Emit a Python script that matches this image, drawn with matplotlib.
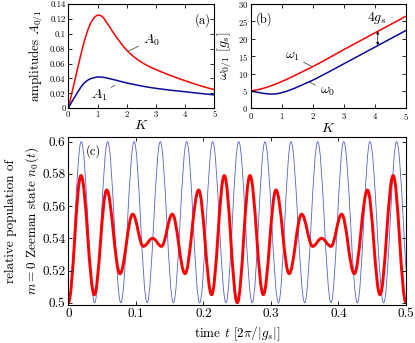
import numpy as np
import matplotlib
matplotlib.use('Agg')
import matplotlib.pyplot as plt
from matplotlib.path import Path
from matplotlib.patches import PathPatch
from matplotlib.ticker import FormatStrFormatter

plt.rcParams['font.family'] = 'serif'
plt.rcParams['font.serif'] = ['cmr10']
plt.rcParams['mathtext.fontset'] = 'cm'
plt.rcParams['axes.formatter.use_mathtext'] = True
plt.rcParams['axes.linewidth'] = 0.8

# (a) amplitudes vs K
K_a = [0, 0.125, 0.25, 0.375, 0.5, 0.625, 0.75, 0.875, 1.0, 1.125, 1.25, 1.5, 1.75,
       2.0, 2.25, 2.5, 2.75, 3.0, 3.5, 4.0, 4.5, 5.0]
A0 = [0, 0.021, 0.042, 0.063, 0.083, 0.100, 0.113, 0.121, 0.125, 0.124, 0.119, 0.104, 0.090,
      0.078, 0.069, 0.062, 0.0565, 0.052, 0.044, 0.037, 0.0305, 0.025]
A1 = [0, 0.009, 0.017, 0.025, 0.032, 0.0365, 0.0395, 0.041, 0.042, 0.0418, 0.0412, 0.039, 0.0365,
      0.034, 0.032, 0.030, 0.0283, 0.0268, 0.0243, 0.0222, 0.0200, 0.018]

# (b) frequencies vs K
K_b = [0, 0.25, 0.5, 0.75, 1.0, 1.25, 1.5, 1.75, 2.0, 2.5, 3.0, 3.5, 4.0, 4.5, 5.0]
w1 = [5.0, 5.4, 6.0, 6.8, 7.7, 8.7, 9.8, 10.9, 12.0, 14.4, 16.9, 19.3, 21.7, 24.1, 26.5]
w0 = [5.0, 4.55, 4.2, 4.1, 4.5, 5.2, 6.1, 7.1, 8.1, 10.4, 12.8, 15.2, 17.6, 20.0, 22.4]

# (c) extrema of the population oscillations (time, value)
t_red = [0, 0.0188, 0.0385, 0.0568, 0.0765, 0.0953, 0.111, 0.1249, 0.138, 0.154, 0.1728,
         0.193, 0.2122, 0.231, 0.2502, 0.269, 0.2887, 0.3075, 0.327, 0.3455, 0.3618, 0.375,
         0.389, 0.4047, 0.4235, 0.443, 0.4615, 0.481, 0.5]
n_red = [0.500, 0.579, 0.505, 0.570, 0.518, 0.555, 0.535, 0.540, 0.535, 0.555, 0.518,
         0.570, 0.505, 0.579, 0.500, 0.579, 0.505, 0.570, 0.518, 0.555, 0.535, 0.540,
         0.535, 0.555, 0.518, 0.570, 0.505, 0.579, 0.500]
t_blue = [0, 0.0192, 0.0389, 0.0583, 0.0778, 0.0975, 0.1167, 0.1362, 0.1556, 0.1753, 0.1945,
          0.2138, 0.2334, 0.2523, 0.2723, 0.2912, 0.3112, 0.3297, 0.35, 0.3693, 0.389,
          0.4078, 0.428, 0.4467, 0.467, 0.4862, 0.506]
n_blue = [0.5, 0.6, 0.5, 0.6, 0.5, 0.6, 0.5, 0.6, 0.5, 0.6, 0.5, 0.6, 0.5, 0.6, 0.5, 0.6,
          0.5, 0.6, 0.5, 0.6, 0.5, 0.6, 0.5, 0.6, 0.5, 0.6, 0.5]

RED = '#ff0000'
NAVY = '#0a0a9a'
LIGHTBLUE = '#5560d0'


def extrema_path(ts, ys, k=0.364):
    # smooth curve through successive extrema (flat tangent at each one)
    verts = [(ts[0], ys[0])]
    codes = [Path.MOVETO]
    for i in range(len(ts) - 1):
        dt = ts[i + 1] - ts[i]
        verts += [(ts[i] + k * dt, ys[i]), (ts[i + 1] - k * dt, ys[i + 1]), (ts[i + 1], ys[i + 1])]
        codes += [Path.CURVE4] * 3
    return Path(verts, codes)


def smooth_path(xs, ys):
    # Catmull-Rom style curve through the read points
    verts = [(xs[0], ys[0])]
    codes = [Path.MOVETO]
    n = len(xs)
    for i in range(n - 1):
        x0, y0 = xs[max(i - 1, 0)], ys[max(i - 1, 0)]
        x1, y1 = xs[i], ys[i]
        x2, y2 = xs[i + 1], ys[i + 1]
        x3, y3 = xs[min(i + 2, n - 1)], ys[min(i + 2, n - 1)]
        verts += [(x1 + (x2 - x0) / 6, y1 + (y2 - y0) / 6),
                  (x2 - (x3 - x1) / 6, y2 - (y3 - y1) / 6),
                  (x2, y2)]
        codes += [Path.CURVE4] * 3
    return Path(verts, codes)


def style_ticks(ax, size):
    ax.tick_params(direction='in', top=True, right=True, length=3, width=0.6,
                   labelsize=size, pad=2)


fig = plt.figure(figsize=(4.15, 3.43), dpi=100)

# panel (a)
ax_a = fig.add_axes([0.1646, 0.6843, 0.3518, 0.304])
ax_a.add_patch(PathPatch(smooth_path(K_a, A0), fill=False, edgecolor=RED, lw=1.1))
ax_a.add_patch(PathPatch(smooth_path(K_a, A1), fill=False, edgecolor=NAVY, lw=1.1))
ax_a.set_xlim(0, 5)
ax_a.set_ylim(0, 0.14)
ax_a.set_xticks([0, 1, 2, 3, 4, 5])
ax_a.set_yticks([0, 0.02, 0.04, 0.06, 0.08, 0.1, 0.12, 0.14])
ax_a.xaxis.set_major_formatter(FormatStrFormatter('%g'))
ax_a.yaxis.set_major_formatter(FormatStrFormatter('%g'))
style_ticks(ax_a, 6.3)
ax_a.set_xlabel(r'$K$', fontsize=10, labelpad=0)
ax_a.set_ylabel(r'amplitudes $A_{0/1}$', fontsize=9.5, va='center')
ax_a.yaxis.set_label_coords(-0.216, 0.5)
ax_a.text(4.61, 0.1185, '(a)', fontsize=9, ha='center', va='center')
ax_a.annotate(r'$A_0$', xy=(2.05, 0.0765), xytext=(2.83, 0.0917), fontsize=10,
              ha='center', va='center',
              arrowprops=dict(arrowstyle='-', lw=0.5, color='#333333', shrinkA=1, shrinkB=0))
ax_a.annotate(r'$A_1$', xy=(1.6, 0.031), xytext=(1.05, 0.0178), fontsize=10,
              ha='center', va='center',
              arrowprops=dict(arrowstyle='-', lw=0.5, color='#333333', shrinkA=1, shrinkB=0))

# panel (b)
ax_b = fig.add_axes([0.6041, 0.6843, 0.3742, 0.304])
ax_b.add_patch(PathPatch(smooth_path(K_b, w1), fill=False, edgecolor=RED, lw=1.1))
ax_b.add_patch(PathPatch(smooth_path(K_b, w0), fill=False, edgecolor=NAVY, lw=1.1))
ax_b.set_xlim(0, 5)
ax_b.set_ylim(0, 30)
ax_b.set_xticks([0, 1, 2, 3, 4, 5])
ax_b.set_yticks([0, 5, 10, 15, 20, 25, 30])
style_ticks(ax_b, 6.3)
ax_b.set_xlabel(r'$K$', fontsize=10, labelpad=0)
ax_b.set_ylabel(r'$\omega_{0/1}\ [g_s]$', fontsize=10, va='center')
ax_b.yaxis.set_label_coords(-0.165, 0.5)
ax_b.text(0.43, 25.6, '(b)', fontsize=9, ha='center', va='center')
ax_b.annotate(r'$\omega_1$', xy=(1.97, 12.05), xytext=(1.33, 14.9), fontsize=10,
              ha='center', va='center',
              arrowprops=dict(arrowstyle='-', lw=0.5, color='#333333', shrinkA=1, shrinkB=0))
ax_b.annotate(r'$\omega_0$', xy=(1.91, 7.5), xytext=(2.46, 4.7), fontsize=10,
              ha='center', va='center',
              arrowprops=dict(arrowstyle='-', lw=0.5, color='#333333', shrinkA=1, shrinkB=0))
ax_b.text(4.07, 26.1, r'$4g_s$', fontsize=10, ha='center', va='center')
ax_b.annotate('', xy=(4.09, 22.2), xytext=(4.09, 18.1),
              arrowprops=dict(arrowstyle='<|-|>', lw=0.5, color='black',
                              mutation_scale=4, shrinkA=0, shrinkB=0))

# panel (c)
ax_c = fig.add_axes([0.1646, 0.1108, 0.8137, 0.4889])
ax_c.add_patch(PathPatch(extrema_path(t_blue, n_blue), fill=False,
                         edgecolor=LIGHTBLUE, lw=0.6))
ax_c.add_patch(PathPatch(extrema_path(t_red, n_red), fill=False,
                         edgecolor=RED, lw=2.1, capstyle='round', joinstyle='round'))
ax_c.set_xlim(0, 0.5)
ax_c.set_ylim(0.4986, 0.6027)
ax_c.set_xticks([0, 0.1, 0.2, 0.3, 0.4, 0.5])
ax_c.set_yticks([0.5, 0.52, 0.54, 0.56, 0.58, 0.6])
ax_c.xaxis.set_major_formatter(FormatStrFormatter('%g'))
ax_c.yaxis.set_major_formatter(FormatStrFormatter('%g'))
style_ticks(ax_c, 9.5)
ax_c.set_xlabel(r'time $t$ $[2\pi/|g_s|]$', fontsize=9.5, labelpad=3)
ax_c.set_ylabel('relative population of\n$m=0$ Zeeman state $n_0(t)$', fontsize=9.5,
                va='center', linespacing=1.5)
ax_c.yaxis.set_label_coords(-0.1356, 0.5)
ax_c.text(0.037, 0.5942, '(c)', fontsize=9, ha='center', va='center')

fig.savefig('out.png', dpi=100)
